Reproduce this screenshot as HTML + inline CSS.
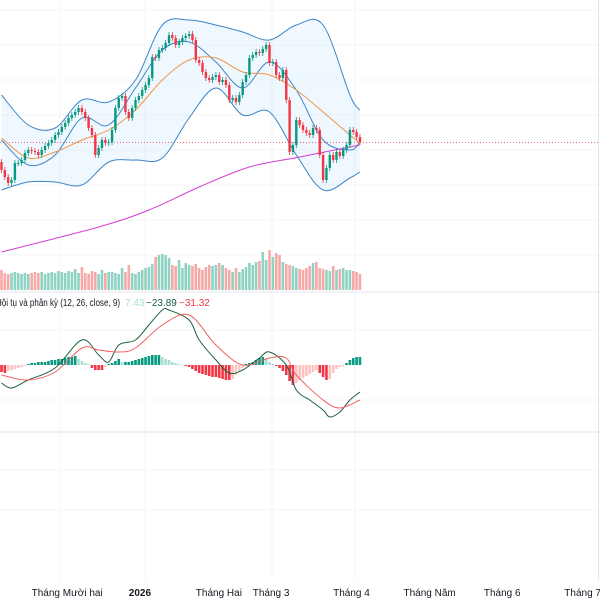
<!DOCTYPE html>
<html><head><meta charset="utf-8"><style>
html,body{margin:0;padding:0;background:#fff;}
svg{display:block;font-family:"Liberation Sans","Noto Sans CJK SC",sans-serif;}
</style></head><body>
<svg id="chart" width="600" height="600" viewBox="0 0 600 600">
<g id="grid"></g>
<g id="main"></g>
<g id="vol"></g>
<g id="macd"></g>
<line x1="0" y1="292" x2="600" y2="292" stroke="#e0e3eb"/>
<line x1="0" y1="432" x2="600" y2="432" stroke="#e0e3eb"/>
<text x="-4" y="306" font-size="10" textLength="124" lengthAdjust="spacingAndGlyphs" fill="#131722">Hội tụ và phân kỳ (12, 26, close, 9)</text>
<text x="125" y="306" font-size="10" fill="#a7dfd3">7.43</text>
<text x="146" y="306" font-size="10" fill="#1e5e3e">−23.89</text>
<text x="179" y="306" font-size="10" fill="#f23645">−31.32</text>
<g id="xaxis" font-size="10" fill="#131722"></g>
</svg>
<script>
// ---- data (prices = 300 - pixel level of reference) ----
const closes=[130,123,117,120,137,137,140,147,150,149,148,145,150,154,157,160,165,168,173,177,182,185,188,192,188,182,172,165,145,152,160,157,158,170,192,202,204,188,182,192,200,204,210,215,222,243,242,250,252,257,265,262,255,258,262,264,266,260,240,237,228,222,220,223,225,218,220,215,200,202,198,205,218,225,242,245,248,247,251,255,237,238,225,222,230,200,148,155,180,175,170,167,165,172,170,145,120,132,145,140,148,144,150,155,170,168,163,158];
const volumes=[20,17,16,17,18,17,16,17,16,17,18,17,18,16,17,18,17,19,18,17,19,18,21,17,23,17,16,19,18,16,20,17,18,18,17,16,22,18,25,17,16,18,20,22,23,26,33,35,36,35,32,25,24,30,22,27,25,24,26,22,20,23,25,24,25,27,25,22,20,18,22,18,21,23,27,25,28,29,38,30,40,33,37,35,28,26,25,24,22,21,20,22,24,27,28,22,21,20,19,24,20,21,22,20,20,19,18,16];
const hist=[-7,-8,-6,-5,-4,-3,-2,-1,1,2,2,3,3,3,4,5,5,6,6,7,8,8,9,6,4,2,1,-3,-5,-5,-5,-2,1,2,4,6,3,3,3,4,5,6,7,8,9,10,10,10,8,6,5,3,2,1,0,-1,-2,-4,-6,-8,-9,-10,-11,-12,-12,-13,-14,-15,-15,-14,-10,-6,-3,1,2,3,5,7,8,6,3,1,-1,-3,-6,-10,-16,-20,-18,-15,-13,-11,-9,-7,-5,-8,-12,-15,-14,-8,-4,-2,-1,2,5,7,8,8];
// sampled indicator series: [candle index, price]
const bbUpper=[[0,205],[8,175],[16,172],[24,200],[32,198],[40,220],[48,275],[56,280],[64,275],[72,268],[80,260],[88,275],[96,275],[104,205],[107,190]];
const bbLower=[[0,110],[8,118],[16,118],[24,115],[32,138],[40,140],[48,142],[56,182],[64,212],[72,185],[80,188],[88,145],[96,110],[104,122],[107,128]];
const bbBasis=[[0,160],[8,135],[16,145],[24,182],[32,175],[40,212],[48,250],[56,258],[64,238],[72,212],[80,238],[88,210],[96,160],[104,150],[107,158]];
const emaLine=[[0,162],[8,142],[16,148],[24,160],[32,170],[40,190],[48,220],[56,240],[64,242],[72,228],[80,225],[88,210],[96,188],[104,165],[107,157]];
const ma200=[[0,48],[29,73],[44,90],[59,113],[74,133],[89,143],[107,155]];
const macdLine=[[0,-18],[3,-23],[8,-15],[16,-3],[24,25],[29,10],[32,3],[35,20],[40,25],[44,40],[48,55],[50,55],[56,45],[59,25],[64,5],[68,-8],[72,-5],[77,7],[80,13],[85,0],[88,-25],[92,-35],[96,-45],[98,-52],[101,-47],[104,-35],[107,-27]];
const signalLine=[[0,-10],[8,-15],[16,-7],[24,17],[29,15],[35,13],[40,17],[48,40],[56,50],[64,20],[72,0],[80,7],[85,7],[88,-10],[96,-35],[101,-43],[107,-35]];
const xTicks=["1","Tháng Mười hai","2026","Tháng Hai","Tháng 3","Tháng 4","Tháng Năm","Tháng 6","Tháng 7"];
const xTickIdx=[-8,9,38,58,75,99,120,144,168];

const NS="http://www.w3.org/2000/svg";
const X=i=>1.5+i*3.35;
const Y=p=>300-p;
const VB=290, VY=v=>VB-v;
const MZ=365, MY=v=>MZ-v;
function mk(tag,attrs,parent){const e=document.createElementNS(NS,tag);for(const k in attrs)e.setAttribute(k,attrs[k]);parent.appendChild(e);return e;}
const grid=document.getElementById('grid'),main=document.getElementById('main'),vol=document.getElementById('vol'),macd=document.getElementById('macd'),xa=document.getElementById('xaxis');

[60,145,272,355].forEach(x=>{const l=mk('line',{x1:x,y1:0,x2:x,y2:580,stroke:'#f2f4f9'},grid);

});
[10,45,80,115,150,185,220,255,330,400,470,510].forEach(y=>{const l=mk('line',{x1:0,y1:y,x2:600,y2:y,stroke:'#f5f6fa'},grid);

});
const sc=mk('line',{x1:598.5,y1:0,x2:598.5,y2:580,stroke:'#e0e3eb'},grid);



function pts(arr,yf){return arr.map(p=>[X(p[0]),yf(p[1])]);}
function smooth(P,start){let d=start?'M'+P[0][0].toFixed(1)+' '+P[0][1].toFixed(1):'L'+P[0][0].toFixed(1)+' '+P[0][1].toFixed(1);
  for(let k=0;k<P.length-1;k++){const p0=P[k-1]||P[k],p1=P[k],p2=P[k+1],p3=P[k+2]||p2;
    const c1=[p1[0]+(p2[0]-p0[0])/6,p1[1]+(p2[1]-p0[1])/6],c2=[p2[0]-(p3[0]-p1[0])/6,p2[1]-(p3[1]-p1[1])/6];
    d+=' C'+c1[0].toFixed(1)+' '+c1[1].toFixed(1)+' '+c2[0].toFixed(1)+' '+c2[1].toFixed(1)+' '+p2[0].toFixed(1)+' '+p2[1].toFixed(1);}
  return d;}
const fillD=smooth(pts(bbUpper,Y),true)+' '+smooth(pts(bbLower,Y).reverse(),false)+' Z';
const bf=mk('path',{d:fillD,fill:'rgba(33,150,243,0.07)',stroke:'none'},main);


const pl=mk('line',{x1:0,y1:142.5,x2:600,y2:142.5,stroke:'#f23645','stroke-dasharray':'1 2','stroke-width':0.8},main);


function line(arr,yf,color,name,parent){const e=mk('path',{d:smooth(pts(arr,yf),true),fill:'none',stroke:color,'stroke-width':1,'stroke-linejoin':'round'},parent||main);

return e;}
line(bbUpper,Y,'#3d85c6','bollinger-upper');
line(bbLower,Y,'#3d85c6','bollinger-lower');
line(bbBasis,Y,'#3d85c6','bollinger-basis');
line(emaLine,Y,'#f0964a','ema-line');
line(ma200,Y,'#d63ed6','ma200-line');

for(let i=0;i<closes.length;i++){
  const o=i?closes[i-1]:closes[i]+8,c=closes[i];
  const up=c>=o,col=up?'#089981':'#f23645';
  const hi=Math.max(o,c)+3,lo=Math.min(o,c)-3;
  const g=mk('g',{},main);
  
  
  mk('line',{x1:X(i),y1:Y(hi),x2:X(i),y2:Y(lo),stroke:col,'stroke-width':0.8},g);
  mk('rect',{x:X(i)-1.2,y:Y(Math.max(o,c)),width:2.4,height:Math.max(1,Math.abs(c-o)),fill:col},g);
  if(i<volumes.length){
    const v=mk('rect',{x:X(i)-1.3,y:VY(volumes[i]),width:2.6,height:volumes[i],fill:up?'#8fd3c4':'#f7a9a7'},vol);
    
    
  }
}
for(let i=0;i<hist.length;i++){
  const h=hist[i],prev=i?hist[i-1]:0;
  let col;
  if(h>=0) col=h>=prev?'#089981':'#a7dfd3'; else col=h<=prev?'#f23645':'#fbc4c2';
  const r=mk('rect',{x:X(i)-1.3,y:h>=0?MY(h):MZ,width:2.6,height:Math.max(0.5,Math.abs(h)),fill:col},macd);
  
  
}
line(macdLine,MY,'#1e5e3e','macd-line',macd);
line(signalLine,MY,'#f06262','signal-line',macd);

xTicks.forEach((t,k)=>{const e=mk('text',{x:X(xTickIdx[k]),y:596,'font-weight':t==='2026'?'bold':'normal'},xa);
e.textContent=t;

});
</script>
</body></html>
